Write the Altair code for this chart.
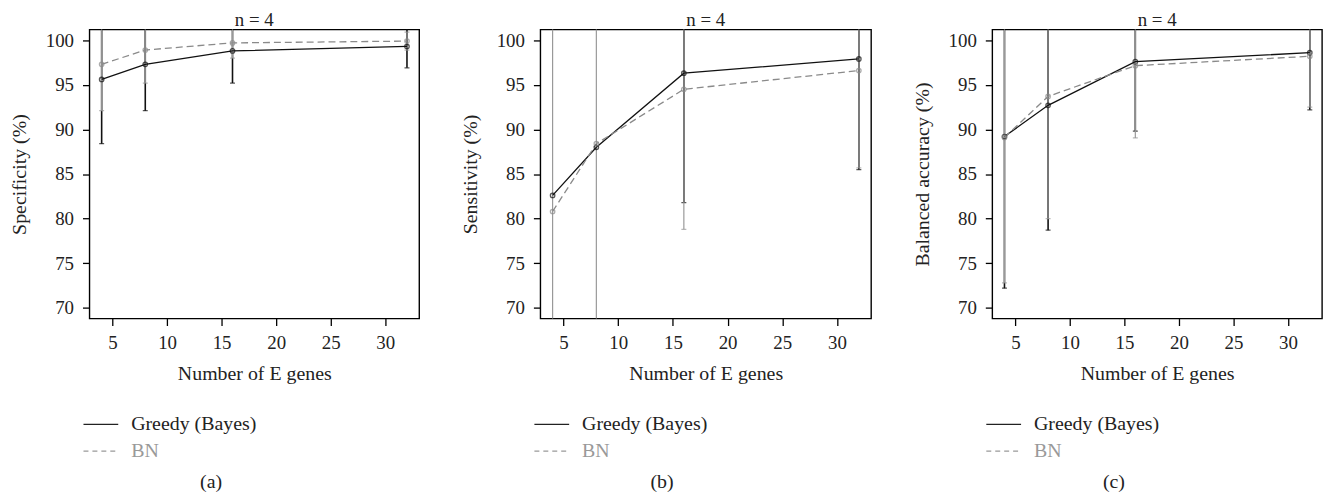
import altair as alt
import pandas as pd

FONT = "Liberation Serif"

genes = [4, 8, 16, 32]
series_names = ["Greedy (Bayes)", "BN"]
panel_titles = ["n = 4", "n = 4", "n = 4"]
captions = ["(a)", "(b)", "(c)"]
y_titles = ["Specificity (%)", "Sensitivity (%)", "Balanced accuracy (%)"]
x_title = "Number of E genes"
x_ticks = [5, 10, 15, 20, 25, 30]
y_ticks = [70, 75, 80, 85, 90, 95, 100]

# (a) Specificity
spec_greedy = [95.6, 97.3, 98.8, 99.3]
spec_greedy_sd = [7.2, 5.2, 3.6, 2.4]
spec_bn = [97.3, 98.9, 99.7, 99.9]
spec_bn_sd = [5.2, 3.7, 1.7, 1.0]
# (b) Sensitivity (no Greedy error bar visible at 4 and 8 genes)
sens_greedy = [82.6, 88.0, 96.3, 97.9]
sens_greedy_sd = [None, None, 14.5, 12.4]
sens_bn = [80.8, 88.4, 94.5, 96.6]
sens_bn_sd = [22.0, 22.0, 15.7, 10.9]
# (c) Balanced accuracy
bal_greedy = [89.2, 92.7, 97.6, 98.6]
bal_greedy_sd = [17.0, 14.0, 7.8, 6.4]
bal_bn = [89.1, 93.7, 97.15, 98.2]
bal_bn_sd = [16.3, 13.7, 8.1, 5.7]

GREEDY_COLOR = "#111111"
BN_COLOR = "#8a8a8a"
BN_BAR = "#999999"
TEXT = "#222222"
LABEL_SIZE = 19
TITLE_SIZE = 20

x_scale = alt.Scale(domain=[2.88, 33.12], nice=False, zero=False)
y_scale = alt.Scale(domain=[68.8, 101.2], nice=False, zero=False)


def x_enc():
    return alt.X("genes:Q", scale=x_scale,
                 axis=alt.Axis(values=x_ticks, title=x_title, grid=False, domain=False,
                               tickColor="black", tickSize=7, tickWidth=1.3,
                               labelPadding=8, titlePadding=11,
                               labelFont=FONT, labelFontSize=LABEL_SIZE, labelColor=TEXT,
                               titleFont=FONT, titleFontSize=TITLE_SIZE, titleFontWeight="normal",
                               titleColor=TEXT))


def y_enc(field, ytitle):
    return alt.Y(f"{field}:Q", scale=y_scale,
                 axis=alt.Axis(values=y_ticks, title=ytitle, grid=False, domain=False,
                               tickColor="black", tickSize=7, tickWidth=1.3,
                               labelPadding=9, titlePadding=16,
                               labelFont=FONT, labelFontSize=LABEL_SIZE, labelColor=TEXT,
                               titleFont=FONT, titleFontSize=TITLE_SIZE, titleFontWeight="normal",
                               titleColor=TEXT))


def make_df(gm, gs, bm, bs):
    rows = []
    for name, m, s in ((series_names[0], gm, gs), (series_names[1], bm, bs)):
        for g, mv, sv in zip(genes, m, s):
            lo = mv - sv if sv is not None else float("nan")
            hi = mv + sv if sv is not None else float("nan")
            rows.append({"series": name, "genes": g, "mean": mv, "lo": lo, "hi": hi})
    return pd.DataFrame(rows)


def panel(df, ytitle, title, width, height):
    base = alt.Chart(df)
    g = base.transform_filter(alt.datum.series == series_names[0])
    b = base.transform_filter(alt.datum.series == series_names[1])
    layers = []
    for src, col, w in ((g, GREEDY_COLOR, 1.6), (b, BN_BAR, 1.2)):
        src = src.transform_filter("isValid(datum.lo) && isFinite(datum.lo)")
        layers.append(src.mark_rule(color=col, strokeWidth=w, clip=True).encode(
            x=x_enc(), y=y_enc("lo", ytitle), y2="hi:Q"))
        layers.append(src.transform_fold(["lo", "hi"], as_=["end", "val"]).mark_tick(
            color=col, orient="horizontal", size=5, thickness=1.3, clip=True).encode(
            x=x_enc(), y=y_enc("val", ytitle)))
    layers.append(g.mark_line(color=GREEDY_COLOR, strokeWidth=1.3).encode(
        x=x_enc(), y=y_enc("mean", ytitle)))
    layers.append(b.mark_line(color=BN_COLOR, strokeWidth=1.3, strokeDash=[7, 4]).encode(
        x=x_enc(), y=y_enc("mean", ytitle)))
    layers.append(g.mark_point(color=GREEDY_COLOR, size=20, strokeWidth=1.3, filled=False).encode(
        x=x_enc(), y=y_enc("mean", ytitle)))
    layers.append(b.mark_point(color=BN_COLOR, size=20, strokeWidth=1.3, filled=False).encode(
        x=x_enc(), y=y_enc("mean", ytitle)))
    return alt.layer(*layers).properties(
        width=width, height=height,
        title=alt.TitleParams(title, font=FONT, fontSize=LABEL_SIZE, fontWeight="normal",
                              color=TEXT, offset=0),
        view=alt.ViewBackground(stroke="black", strokeWidth=1.4),
    )


def legend(caption):
    ldf = pd.DataFrame({"series": series_names})
    y = alt.Y("series:N", sort=series_names, axis=None,
              scale=alt.Scale(type="point", padding=0.5))
    color = alt.Color("series:N", sort=series_names, legend=None,
                      scale=alt.Scale(domain=series_names, range=["#222222", "#999999"]))
    dash = alt.StrokeDash("series:N", sort=series_names, legend=None,
                          scale=alt.Scale(domain=series_names, range=[[1, 0], [5, 4]]))
    base = alt.Chart(ldf)
    rules = base.mark_rule(strokeWidth=1.3).encode(
        x=alt.value(-6), x2=alt.value(29), y=y, color=color, strokeDash=dash)
    texts = base.mark_text(align="left", baseline="middle", font=FONT, fontSize=TITLE_SIZE).encode(
        x=alt.value(42), y=y, text="series:N", color=color)
    return alt.layer(rules, texts).properties(
        width=245, height=54,
        title=alt.TitleParams(caption, orient="bottom", anchor="middle", font=FONT,
                              fontSize=TITLE_SIZE, fontWeight="normal", color=TEXT, offset=8),
        view=alt.ViewBackground(stroke=None),
    )


datasets = [
    make_df(spec_greedy, spec_greedy_sd, spec_bn, spec_bn_sd),
    make_df(sens_greedy, sens_greedy_sd, sens_bn, sens_bn_sd),
    make_df(bal_greedy, bal_greedy_sd, bal_bn, bal_bn_sd),
]
widths = [332, 333, 332]

columns = []
for i in range(3):
    columns.append(alt.vconcat(
        panel(datasets[i], y_titles[i], panel_titles[i], widths[i], 291),
        legend(captions[i]),
        spacing=27,
    ))

chart = alt.hconcat(*columns, spacing=39).properties(
    padding={"left": 0, "top": 0, "right": 0, "bottom": 0}
).resolve_scale(color="independent", strokeDash="independent")

chart.save("out.html", embed_options={"renderer": "svg", "actions": False})
